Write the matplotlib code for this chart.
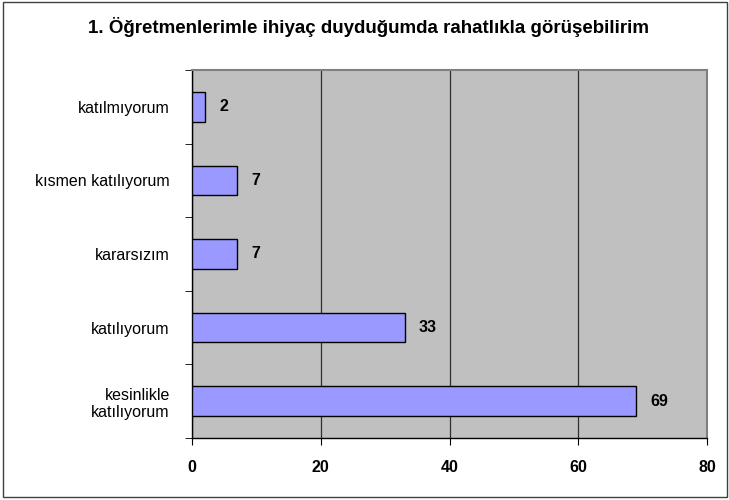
import matplotlib
matplotlib.use("Agg")
import matplotlib.pyplot as plt
import numpy as np
from matplotlib.patches import Rectangle

plt.rcParams['font.family'] = ['Liberation Sans', 'DejaVu Sans']

title = "1. Öğretmenlerimle ihiyaç duyduğumda rahatlıkla görüşebilirim"
categories = ["kesinlikle\nkatılıyorum", "katılıyorum", "kararsızım", "kısmen katılıyorum", "katılmıyorum"]
values = [69, 33, 7, 7, 2]
xticks = [0, 20, 40, 60, 80]

fig = plt.figure(figsize=(7.29, 5.0), dpi=100)
fig.patch.set_facecolor('white')
fig.add_artist(Rectangle((0.004, 0.006), 0.993, 0.99, transform=fig.transFigure,
                         fill=False, edgecolor='#404040', linewidth=1.0))

ax = fig.add_axes([0.2634, 0.124, 0.7066, 0.736])
ax.set_facecolor('#C0C0C0')
y = np.arange(len(categories))
ax.barh(y, values, height=0.4, color='#9999FF', edgecolor='black', linewidth=1.0, zorder=3)
for yi, v in zip(y, values):
    ax.text(v + 2.2, yi, str(v), va='center', ha='left', fontsize=11.5, fontweight='bold', zorder=4)

ax.set_xlim(0, 80)
ax.set_ylim(-0.5, len(categories) - 0.5)
ax.set_xticks(xticks)
ax.set_xticklabels([str(t) for t in xticks], fontsize=11.5, fontweight='bold')
ax.set_yticks(y)
ax.set_yticklabels(categories, fontsize=11.5, linespacing=1.15)
ax.tick_params(axis='y', length=0, pad=16)
ax.set_yticks(np.arange(-0.5, len(categories), 1.0), minor=True)
ax.tick_params(axis='y', which='minor', length=5, direction='out', color='black')
ax.tick_params(axis='x', length=5, direction='out', pad=11, color='black')
ax.xaxis.grid(True, color='#303030', linewidth=0.9, zorder=1)
ax.set_axisbelow(True)
for s in ax.spines.values():
    s.set_color('black')
    s.set_linewidth(1.0)
ax.spines['top'].set_color('#808080')
ax.spines['right'].set_color('#808080')
ax.spines['top'].set_linewidth(1.5)
ax.spines['right'].set_linewidth(1.5)

fig.text(0.505, 0.946, title, ha='center', va='center', fontsize=13.5, fontweight='bold')

fig.savefig('out.png', dpi=100)
